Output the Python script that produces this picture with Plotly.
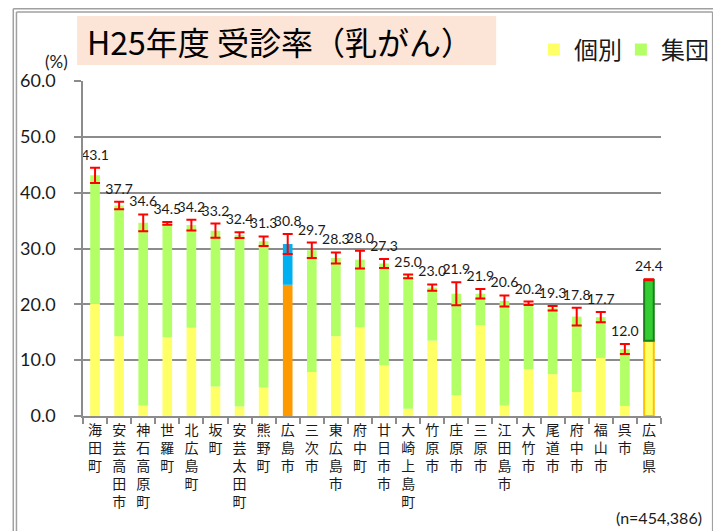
import plotly.graph_objects as go

# ---- data ----
areas = ["海田町", "安芸高田市", "神石高原町", "世羅町", "北広島町", "坂町", "安芸太田町", "熊野町",
         "広島市", "三次市", "東広島市", "府中町", "廿日市市", "大崎上島町", "竹原市", "庄原市",
         "三原市", "江田島市", "大竹市", "尾道市", "府中市", "福山市", "呉市", "広島県"]
total = [43.1, 37.7, 34.6, 34.5, 34.2, 33.2, 32.4, 31.3, 30.8, 29.7, 28.3, 28.0,
         27.3, 25.0, 23.0, 21.9, 21.9, 20.6, 20.2, 19.3, 17.8, 17.7, 12.0, 24.4]
individual = [20.2, 14.3, 1.9, 14.1, 15.8, 5.3, 1.7, 5.1, 23.5, 7.9, 14.3, 15.9,
              9.1, 1.3, 13.5, 3.7, 16.3, 1.9, 8.4, 7.5, 4.3, 10.4, 1.8, 13.5]
error = [1.35, 0.69, 1.5, 0.25, 0.96, 1.26, 0.5, 0.87, 1.8, 1.38, 1.0, 1.6,
         0.8, 0.33, 0.57, 2.07, 0.84, 0.99, 0.3, 0.42, 1.6, 0.93, 0.9, 0.1]
group = [round(t - i, 1) for t, i in zip(total, individual)]
y_ticks = [0, 10, 20, 30, 40, 50, 60]
series_names = ["個別", "集団"]
title_text = "H25年度 受診率（乳がん）"
n_text = "(n=454,386)"

# ---- styling / layout helpers ----
JP = "Noto Sans CJK JP"
NUM = "Lato"
OFF = 8                      # page body margin
W, H = 721 - OFF, 531 - OFF
PLOT_L, PLOT_R, PLOT_T, PLOT_B = 79, 661, 81, 416   # plot area in page pixels
ML = PLOT_L - OFF
MR = W - (PLOT_R - OFF)
MT = PLOT_T - OFF
MB = H - (PLOT_B - OFF)
PW, PH = W - ML - MR, H - MT - MB


def px_x(px):
    return (px - OFF - ML) / PW


def px_y(py):
    return (H - MB - (py - OFF)) / PH


ind_colors = ["#FFFF66"] * len(areas)
grp_colors = ["#B3FF66"] * len(areas)
ind_line_c = ["rgba(0,0,0,0)"] * len(areas)
grp_line_c = ["rgba(0,0,0,0)"] * len(areas)
ind_line_w = [0] * len(areas)
grp_line_w = [0] * len(areas)
i_city = areas.index("広島市")
ind_colors[i_city] = "#FF9900"
grp_colors[i_city] = "#00B0F0"
i_pref = areas.index("広島県")
grp_colors[i_pref] = "#33CC33"
ind_line_c[i_pref] = "#FFC000"
grp_line_c[i_pref] = "#1A7F1A"
ind_line_w[i_pref] = 2
grp_line_w[i_pref] = 2

vertical = ["<br>".join(list(a)) for a in areas]

fig = go.Figure()
fig.add_trace(go.Bar(
    x=areas, y=individual, name=series_names[0], width=0.4,
    marker=dict(color=ind_colors, line=dict(color=ind_line_c, width=ind_line_w)),
    hoverinfo="skip",
))
fig.add_trace(go.Bar(
    x=areas, y=group, name=series_names[1], width=0.4,
    marker=dict(color=grp_colors, line=dict(color=grp_line_c, width=grp_line_w)),
    error_y=dict(type="data", array=error, symmetric=True, color="#FF0000", thickness=2, width=5),
    base=individual,
    hoverinfo="skip",
))
fig.add_trace(go.Scatter(
    x=areas, y=[t + e + 0.8 for t, e in zip(total, error)],
    mode="text", text=[f"{t:.1f}" for t in total], textposition="top center",
    textfont=dict(family=NUM, size=14, color="#1a1a1a"),
    showlegend=False, hoverinfo="skip", cliponaxis=False,
))

line_style = dict(color="#a0a0a0", width=1.5)
fig.update_layout(
    width=W, height=H,
    margin=dict(l=ML, r=MR, t=MT, b=MB),
    barmode="overlay",
    paper_bgcolor="white", plot_bgcolor="white",
    showlegend=True,
    legend=dict(orientation="h", x=px_x(533), y=px_y(50), xanchor="left", yanchor="middle",
                font=dict(family=JP, size=24, color="#1a1a1a"), bgcolor="rgba(0,0,0,0)",
                itemclick=False, entrywidth=42, entrywidthmode="pixels"),
    xaxis=dict(
        type="category", tickvals=areas, ticktext=vertical,
        tickson="boundaries", ticks="outside", ticklen=6, tickcolor="#8c8c8c", tickwidth=1.5,
        showline=True, linecolor="#8c8c8c", linewidth=1.5,
        showgrid=False, tickangle=0,
        tickfont=dict(family=JP, size=14, color="#1a1a1a"),
        range=[-0.5, len(areas) - 0.5],
    ),
    yaxis=dict(
        range=[0, 60], tickvals=y_ticks, tickformat=".1f",
        ticks="outside", ticklen=7, tickcolor="#8c8c8c", tickwidth=1.5,
        showline=True, linecolor="#8c8c8c", linewidth=1.5,
        showgrid=True, gridcolor="#8c8c8c", gridwidth=1.5,
        tickfont=dict(family=NUM, size=18, color="#1a1a1a"),
        ticklabelstandoff=15, zeroline=False,
    ),
    shapes=[
        dict(type="rect", xref="paper", yref="paper", x0=px_x(73), x1=px_x(495),
             y0=px_y(65), y1=px_y(16), fillcolor="#FCE4D6", line=dict(width=0), layer="below"),
        dict(type="line", xref="paper", yref="paper", x0=px_x(8.8), x1=px_x(8.8), y0=px_y(8.8), y1=px_y(531),
             line=line_style),
        dict(type="line", xref="paper", yref="paper", x0=px_x(12), x1=px_x(12), y0=px_y(12), y1=px_y(531),
             line=line_style),
        dict(type="line", xref="paper", yref="paper", x0=px_x(8.8), x1=px_x(721), y0=px_y(8.8), y1=px_y(8.8),
             line=line_style),
        dict(type="line", xref="paper", yref="paper", x0=px_x(12), x1=px_x(713), y0=px_y(12), y1=px_y(12),
             line=line_style),
        dict(type="line", xref="paper", yref="paper", x0=px_x(713), x1=px_x(713), y0=px_y(12), y1=px_y(531),
             line=line_style),
    ],
    annotations=[
        dict(text=title_text, xref="paper", yref="paper", x=px_x(81), y=px_y(41),
             xanchor="left", yanchor="middle", showarrow=False,
             font=dict(family=JP, size=32, color="#000000")),
        dict(text="(%)", xref="paper", yref="paper", x=px_x(52), y=px_y(62),
             xanchor="center", yanchor="middle", showarrow=False,
             font=dict(family=NUM, size=17, color="#1a1a1a")),
        dict(text=n_text, xref="paper", yref="paper", x=px_x(704), y=px_y(517),
             xanchor="right", yanchor="middle", showarrow=False,
             font=dict(family=NUM, size=16, color="#1a1a1a")),
    ],
)

fig.write_html("out.html")
